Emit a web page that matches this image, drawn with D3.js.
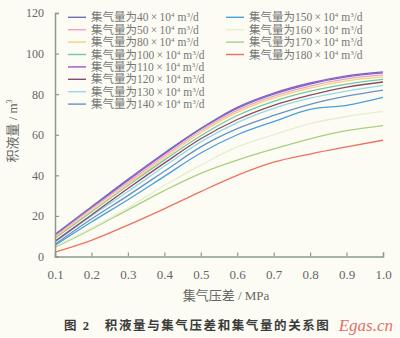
<!DOCTYPE html>
<html>
<head>
<meta charset="utf-8">
<script src="https://cdn.jsdelivr.net/npm/d3@7"></script>
<style>
  html, body { margin: 0; padding: 0; background: #fcfcf4; }
  svg { display: block; }
  text { font-family: "Liberation Serif", "Noto Sans CJK SC", serif; fill: #666; }
</style>
</head>
<body>
<svg id="chart" width="400" height="338"></svg>
<script>
// Pressure difference (MPa) sampled along every curve
const pressureDiff = [0.1, 0.2, 0.3, 0.4, 0.5, 0.6, 0.7, 0.8, 0.9, 1.0];

// Gas gathering rates, 10^4 m^3/d
const gasRates = [40, 50, 80, 100, 110, 120, 130, 140, 150, 160, 170, 180];

// Accumulated liquid volume (m^3) for each gathering rate
const liquid40  = [11.0, 24.5, 38.0, 51.0, 63.0, 73.0, 80.0, 85.0, 88.5, 90.5];
const liquid50  = [10.0, 23.5, 36.5, 49.5, 62.0, 72.0, 79.0, 84.0, 87.5, 89.5];
const liquid80  = [9.5, 22.5, 35.5, 48.5, 61.0, 71.0, 78.0, 83.0, 86.5, 88.5];
const liquid100 = [9.0, 22.0, 35.0, 47.5, 59.5, 69.5, 76.5, 81.5, 85.0, 87.3];
const liquid110 = [10.5, 24.0, 37.5, 50.5, 63.0, 73.5, 80.5, 85.5, 89.0, 91.0];
const liquid120 = [7.5, 20.5, 33.5, 46.0, 58.0, 67.5, 74.5, 79.5, 83.5, 86.0];
const liquid130 = [7.0, 20.0, 32.0, 44.5, 56.5, 66.0, 73.0, 78.0, 81.5, 84.3];
const liquid140 = [6.0, 18.5, 30.0, 42.0, 54.0, 63.0, 69.5, 75.0, 79.0, 82.0];
const liquid150 = [5.5, 17.0, 28.0, 39.5, 51.0, 60.0, 66.5, 72.5, 74.5, 78.4];
const liquid160 = [5.0, 14.0, 24.0, 35.0, 45.0, 54.0, 60.0, 65.5, 69.0, 71.5];
const liquid170 = [4.5, 13.5, 23.0, 32.5, 41.0, 47.5, 53.0, 58.0, 62.0, 64.5];
const liquid180 = [2.2, 8.0, 15.5, 23.5, 32.0, 40.0, 46.5, 50.5, 54.0, 57.3];

const seriesValues = [liquid40, liquid50, liquid80, liquid100, liquid110, liquid120,
                      liquid130, liquid140, liquid150, liquid160, liquid170, liquid180];

const seriesColors = ["#6a6fc0", "#f3a0c0", "#f2d27a", "#70c6a6", "#a050d0", "#8a4a68",
                      "#92d8e6", "#6890c8", "#48a0e0", "#e6eecf", "#a8d080", "#f07060"];

// Axis ticks
const xTicks = [0.1, 0.2, 0.3, 0.4, 0.5, 0.6, 0.7, 0.8, 0.9, 1.0];
const yTicks = [0, 20, 40, 60, 80, 100, 120];

const svg = d3.select("#chart");
const axisColor = "#8c9a8a";

const x = d3.scaleLinear().domain([0.1, 1.0]).range([55, 383]);
const y = d3.scaleLinear().domain([0, 120]).range([256.5, 13]);

// Curves
const line = d3.line()
  .x((d, i) => x(pressureDiff[i]))
  .y(d => y(d))
  .curve(d3.curveMonotoneX);

// draw the high-rate curves first so the low-rate bundle stays on top
const drawOrder = d3.range(seriesValues.length).reverse();
svg.append("g").selectAll("path")
  .data(drawOrder)
  .join("path")
  .attr("d", i => line(seriesValues[i]))
  .attr("fill", "none")
  .attr("stroke", i => seriesColors[i])
  .attr("stroke-width", 1.3);

// Axes
const xAxis = d3.axisBottom(x)
  .tickValues(xTicks)
  .tickFormat(d3.format(".1f"))
  .tickSize(-4)
  .tickPadding(13);
const gx = svg.append("g").attr("transform", `translate(0,${y(0)})`).call(xAxis);

const yAxis = d3.axisLeft(y)
  .tickValues(yTicks)
  .tickSize(-4)
  .tickPadding(11);
const gy = svg.append("g").attr("transform", `translate(${x(0.1)},0)`).call(yAxis);

[gx, gy].forEach(g => {
  g.select(".domain").attr("stroke", axisColor).attr("stroke-width", 1.5);
  g.selectAll(".tick line").attr("stroke", axisColor).attr("stroke-width", 1.2);
  g.selectAll(".tick text")
    .attr("fill", "#666")
    .style("font-family", "'Liberation Serif', serif");
});
gx.selectAll(".tick text").style("font-size", "13px");
gy.selectAll(".tick text").style("font-size", "12px");

// Axis titles
const xTitle = svg.append("text")
  .attr("x", 226).attr("y", 299.5)
  .attr("text-anchor", "middle")
  .style("font-size", "13px");
xTitle.append("tspan").text("集气压差 / MPa");

const yTitle = svg.append("text")
  .attr("transform", "translate(17,131) rotate(-90)")
  .attr("text-anchor", "middle")
  .style("font-size", "13px");
yTitle.append("tspan").text("积液量 / m");
yTitle.append("tspan").attr("dy", -5).style("font-size", "8px").text("3");

// Legend
const legendRowY = i => 17.3 + (i % 8) * 12.4;
const legendColX = i => (i < 8 ? 68 : 226);
const legend = svg.append("g").selectAll("g")
  .data(gasRates)
  .join("g")
  .attr("transform", (d, i) => `translate(${legendColX(i)},${legendRowY(i)})`);

legend.append("line")
  .attr("x1", 0).attr("x2", 18)
  .attr("stroke", (d, i) => seriesColors[i])
  .attr("stroke-width", 1.4);

const lt = legend.append("text")
  .attr("x", 23).attr("y", 4)
  .style("font-size", "11.5px")
  .style("fill", "#777");
lt.append("tspan").text(d => `集气量为${d}\u2009×\u200910`);
lt.append("tspan").attr("dy", -4).style("font-size", "7px").text("4");
lt.append("tspan").attr("dy", 4).text(" m");
lt.append("tspan").attr("dy", -4).style("font-size", "7px").text("3");
lt.append("tspan").attr("dy", 4).text("/d");

// Figure caption
svg.append("text")
  .attr("x", 64).attr("y", 330)
  .style("font-size", "12.5px")
  .style("font-weight", "bold")
  .style("letter-spacing", "1.6px")
  .style("fill", "#3a3a3a")
  .attr("xml:space", "preserve")
  .text("图 2   积液量与集气压差和集气量的关系图");

// Site mark
svg.append("text")
  .attr("x", 393).attr("y", 331)
  .attr("text-anchor", "end")
  .style("font-size", "17px")
  .style("font-style", "italic")
  .style("fill", "#d9403a")
  .style("opacity", 0.75)
  .text("Egas.cn");
</script>
</body>
</html>
